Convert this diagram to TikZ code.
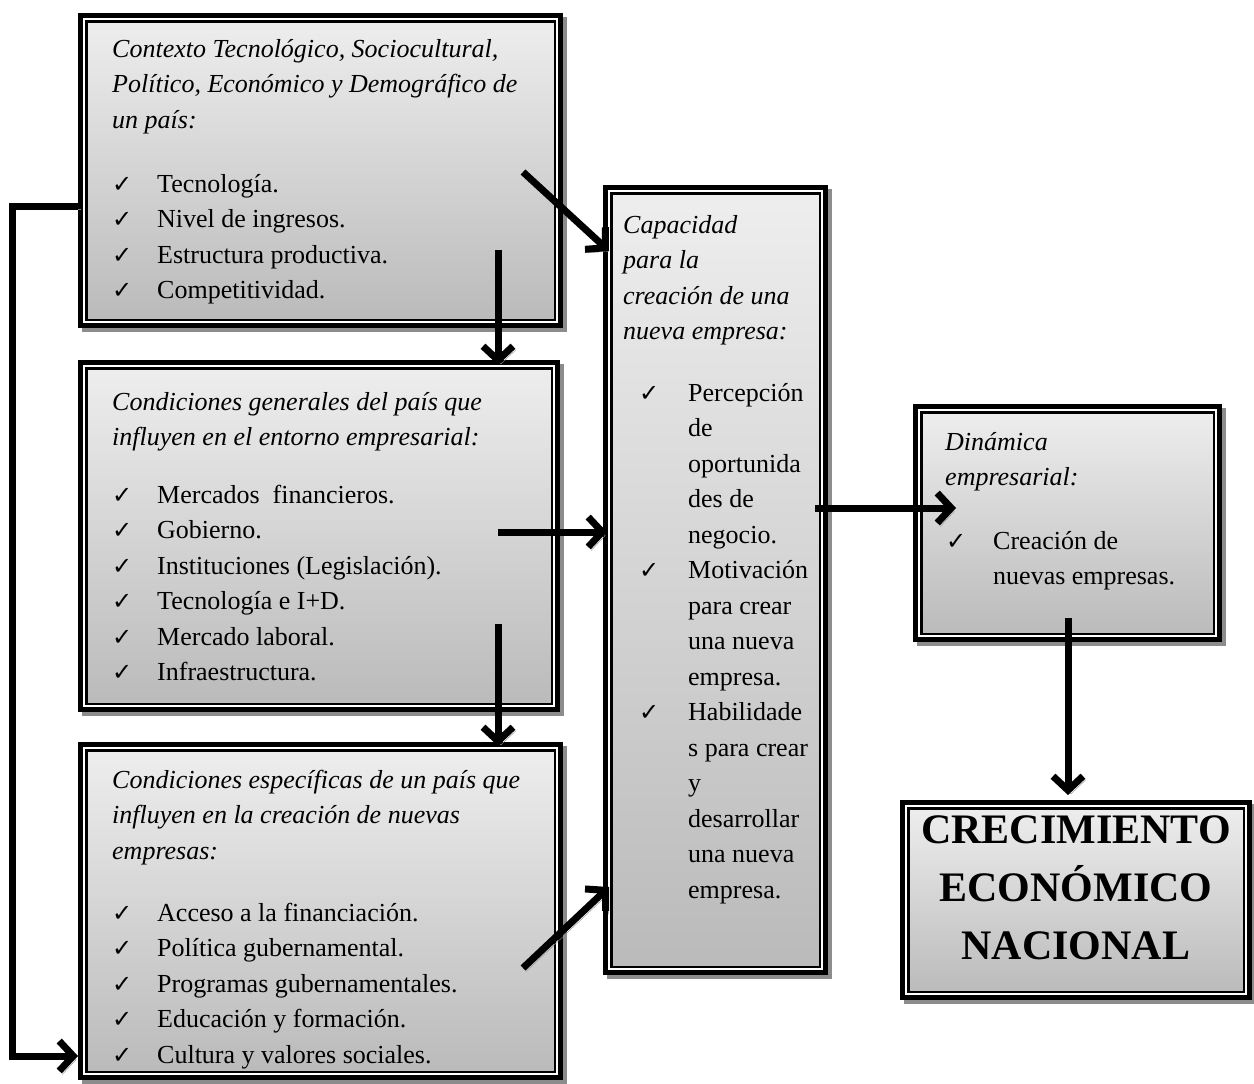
\documentclass[tikz,border=0pt]{standalone}
\usepackage{fontspec}
\setmainfont{Liberation Serif}
\newfontfamily\ckfont{DejaVu Sans}
\usetikzlibrary{arrows.meta,fit}
\definecolor{gtop}{RGB}{238,238,238}
\definecolor{gbot}{RGB}{186,186,186}
\definecolor{shad}{RGB}{140,140,140}
\newcommand{\ck}[3]{\par\noindent\hangindent=#2pt\hangafter=1\hbox to #2pt{\hspace*{#1pt}{\ckfont\fontsize{24}{24}\selectfont ✓}\hss}#3}
\tikzset{
  fbox/.style={draw=black, line width=9.5pt, top color=gtop, bottom color=gbot, inner sep=0pt,
    preaction={fill=shad, draw=shad, line width=9.5pt, transform canvas={shift={(4pt,-4pt)}}}},
  arr/.style={line width=7pt, -{Straight Barb[length=14pt,width=30pt]},
    preaction={draw=shad, transform canvas={shift={(3pt,-3.5pt)}}}},
  txt/.style={anchor=base west, inner sep=0pt, font=\fontsize{26}{35.5}\selectfont},
}
\begin{document}
\begin{tikzpicture}[x=1pt,y=-1pt]
\useasboundingbox (0,0) rectangle (1254,1084);
% boxes
\node[fbox, fit={(82.75,17.75)(558.25,323.25)}] (b1) {};
\node[fbox, fit={(82.75,364.75)(555.25,707.25)}] (b2) {};
\node[fbox, fit={(82.75,746.75)(558.25,1075.25)}] (b3) {};
\node[fbox, fit={(607.75,189.75)(823.25,970.25)}] (b4) {};
\node[fbox, fit={(917.75,408.75)(1217.25,637.25)}] (b5) {};
\node[fbox, fit={(904.75,804.75)(1247.25,995.25)}] (b6) {};
\foreach \b in {b1,b2,b3,b4,b5,b6} {
  \draw[white, line width=2.5pt] ([shift={(6,6)}]\b.north west) rectangle ([shift={(-6,-6)}]\b.south east);
  \draw[black, line width=1.8pt] ([shift={(8,8)}]\b.north west) rectangle ([shift={(-8,-8)}]\b.south east);
}
% texts
\node[txt] (h1) at (112,57) {\begin{minipage}[t]{440pt}\itshape Contexto Tecnológico, Sociocultural,\\ Político, Económico y Demográfico de\\ un país:\end{minipage}};
\node[txt] (i1) at (112,192) {\begin{minipage}[t]{440pt}
\ck{0}{45}{Tecnología.}
\ck{0}{45}{Nivel de ingresos.}
\ck{0}{45}{Estructura productiva.}
\ck{0}{45}{Competitividad.}\end{minipage}};
\node[txt] (h2) at (112,410) {\begin{minipage}[t]{440pt}\itshape Condiciones generales del país que\\ influyen en el entorno empresarial:\end{minipage}};
\node[txt] (i2) at (112,503) {\begin{minipage}[t]{440pt}
\ck{0}{45}{Mercados\ \ financieros.}
\ck{0}{45}{Gobierno.}
\ck{0}{45}{Instituciones (Legislación).}
\ck{0}{45}{Tecnología e I+D.}
\ck{0}{45}{Mercado laboral.}
\ck{0}{45}{Infraestructura.}\end{minipage}};
\node[txt] (h3) at (112,788) {\begin{minipage}[t]{440pt}\itshape Condiciones específicas de un país que\\ influyen en la creación de nuevas\\ empresas:\end{minipage}};
\node[txt] (i3) at (112,921) {\begin{minipage}[t]{440pt}
\ck{0}{45}{Acceso a la financiación.}
\ck{0}{45}{Política gubernamental.}
\ck{0}{45}{Programas gubernamentales.}
\ck{0}{45}{Educación y formación.}
\ck{0}{45}{Cultura y valores sociales.}\end{minipage}};
\node[txt] (h4) at (623,233) {\begin{minipage}[t]{200pt}\itshape Capacidad\\ para la\\ creación de una\\ nueva empresa:\end{minipage}};
\node[txt] (i4) at (639,401) {\begin{minipage}[t]{200pt}
\ck{0}{49}{Percepción\\ de\\ oportunida\\ des de\\ negocio.}
\ck{0}{49}{Motivación\\ para crear\\ una nueva\\ empresa.}
\ck{0}{49}{Habilidade\\ s para crear\\ y\\ desarrollar\\ una nueva\\ empresa.}\end{minipage}};
\node[txt] (h5) at (945,450) {\begin{minipage}[t]{260pt}\itshape Dinámica\\ empresarial:\end{minipage}};
\node[txt] (i5) at (946,549) {\begin{minipage}[t]{260pt}
\ck{0}{47}{Creación de\\ nuevas empresas.}\end{minipage}};
\node[anchor=base, inner sep=0pt, font=\fontsize{42}{58}\selectfont\bfseries] (t6) at (1076,843) {\begin{minipage}[t]{340pt}\centering CRECIMIENTO\\ ECONÓMICO\\ NACIONAL\end{minipage}};
% connectors
\coordinate (a1s) at (523,172); \coordinate (a1e) at (609,251);
\coordinate (a2s) at (498,250); \coordinate (a2e) at (498,365);
\coordinate (a3s) at (498,532); \coordinate (a3e) at (607,532);
\coordinate (a4s) at (498,624); \coordinate (a4e) at (498,746);
\coordinate (a5s) at (523,968); \coordinate (a5e) at (609,887);
\coordinate (a6s) at (815,508); \coordinate (a6e) at (956,508);
\coordinate (a7s) at (1068,618); \coordinate (a7e) at (1068,795);
\coordinate (l1) at (78,206); \coordinate (l2) at (12,206);
\coordinate (l3) at (12,1056); \coordinate (l4) at (78,1056);
\draw[arr] (a1s) -- (a1e);
\draw[arr] (a2s) -- (a2e);
\draw[arr] (a3s) -- (a3e);
\draw[arr] (a4s) -- (a4e);
\draw[arr] (a5s) -- (a5e);
\draw[arr] (a6s) -- (a6e);
\draw[arr] (a7s) -- (a7e);
\draw[arr] (l1) -- (l2) -- (l3) -- (l4);
\end{tikzpicture}
\end{document}
